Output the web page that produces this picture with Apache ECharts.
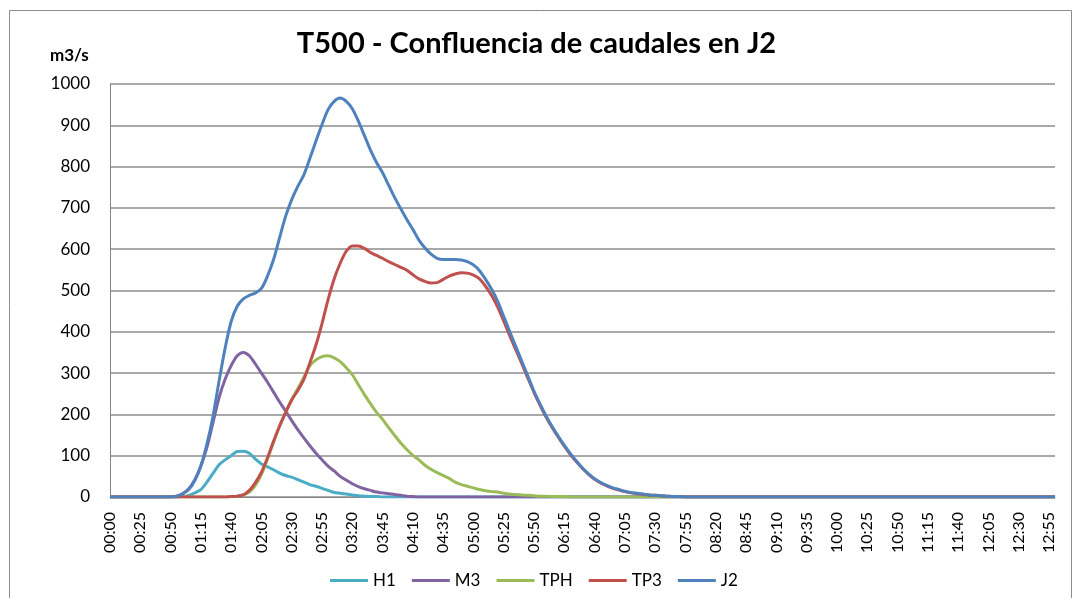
<!DOCTYPE html>
<html>
<head>
<meta charset="utf-8">
<script src="https://cdn.jsdelivr.net/npm/echarts@6/dist/echarts.min.js"></script>
<style>
html,body{margin:0;padding:0;background:#fff;}
#chart{width:1073px;height:598px;}
</style>
</head>
<body>
<div id="chart"></div>
<script>
// Categories: 5-minute steps from 00:00 to 13:00
const times = [];
for (let m = 0; m <= 780; m += 5) {
  const h = Math.floor(m / 60), mm = m % 60;
  times.push((h < 10 ? '0' : '') + h + ':' + (mm < 10 ? '0' : '') + mm);
}

const seriesNames = ['H1', 'M3', 'TPH', 'TP3', 'J2'];

const H1 = [
  0,0,0,0,0,0,0,0,0,0,
  0,0,1,4,10,18,36,57,78,90,
  100,110,111,106,92,80,73,66,58,52,
  48,42,36,30,26,21,16,11,9,7,
  5,3,2,1,1,0,0,0,0,0,
  0,0,0,0,0,0,0,0,0,0,
  0,0,0,0,0,0,0,0,0,0,
  0,0,0,0,0,0,0,0,0,0,
  0,0,0,0,0,0,0,0,0,0,
  0,0,0,0,0,0,0,0,0,0,
  0,0,0,0,0,0,0,0,0,0,
  0,0,0,0,0,0,0,0,0,0,
  0,0,0,0,0,0,0,0,0,0,
  0,0,0,0,0,0,0,0,0,0,
  0,0,0,0,0,0,0,0,0,0,
  0,0,0,0,0,0,0
];

const M3 = [
  0,0,0,0,0,0,0,0,0,0,
  0,2,8,20,42,75,120,180,240,285,
  318,342,350,342,322,300,278,254,230,208,
  185,163,143,124,106,90,75,63,50,41,
  32,25,20,16,12,10,8,6,4,2,
  1,0,0,0,0,0,0,0,0,0,
  0,0,0,0,0,0,0,0,0,0,
  0,0,0,0,0,0,0,0,0,0,
  0,0,0,0,0,0,0,0,0,0,
  0,0,0,0,0,0,0,0,0,0,
  0,0,0,0,0,0,0,0,0,0,
  0,0,0,0,0,0,0,0,0,0,
  0,0,0,0,0,0,0,0,0,0,
  0,0,0,0,0,0,0,0,0,0,
  0,0,0,0,0,0,0,0,0,0,
  0,0,0,0,0,0,0
];

const TPH = [
  0,0,0,0,0,0,0,0,0,0,
  0,0,0,0,0,0,0,0,0,0,
  1,2,5,12,28,55,92,133,172,205,
  236,262,290,318,332,340,342,337,328,313,
  296,272,248,226,205,188,168,149,131,115,
  101,90,77,67,59,52,45,36,30,26,
  22,18,15,13,12,9,7,6,5,4,
  3,2,2,1,1,1,0,0,0,0,
  0,0,0,0,0,0,0,0,0,0,
  0,0,0,0,0,0,0,0,0,0,
  0,0,0,0,0,0,0,0,0,0,
  0,0,0,0,0,0,0,0,0,0,
  0,0,0,0,0,0,0,0,0,0,
  0,0,0,0,0,0,0,0,0,0,
  0,0,0,0,0,0,0,0,0,0,
  0,0,0,0,0,0,0
];

const TP3 = [
  0,0,0,0,0,0,0,0,0,0,
  0,0,0,0,0,0,0,0,0,0,
  1,2,5,16,35,60,95,135,172,205,
  235,258,285,325,368,420,478,528,566,595,
  608,608,602,592,585,578,570,563,556,549,
  538,528,522,518,519,527,535,540,543,542,
  537,528,510,488,460,426,390,356,322,287,
  253,222,193,168,145,123,103,85,69,55,
  43,34,27,21,17,13,10,8,6,5,
  4,3,2,1,1,0,0,0,0,0,
  0,0,0,0,0,0,0,0,0,0,
  0,0,0,0,0,0,0,0,0,0,
  0,0,0,0,0,0,0,0,0,0,
  0,0,0,0,0,0,0,0,0,0,
  0,0,0,0,0,0,0,0,0,0,
  0,0,0,0,0,0,0
];

const J2 = [
  0,0,0,0,0,0,0,0,0,0,
  0,2,8,18,40,75,128,195,280,360,
  425,462,480,488,494,505,535,575,628,680,
  720,752,780,820,862,902,938,958,966,958,
  940,910,875,840,810,785,755,725,698,672,
  648,622,603,588,578,575,575,575,574,570,
  562,548,527,503,474,437,400,364,328,292,
  256,225,196,170,147,125,105,87,70,56,
  44,35,28,22,18,14,11,9,7,5,
  4,3,2,1,1,0,0,0,0,0,
  0,0,0,0,0,0,0,0,0,0,
  0,0,0,0,0,0,0,0,0,0,
  0,0,0,0,0,0,0,0,0,0,
  0,0,0,0,0,0,0,0,0,0,
  0,0,0,0,0,0,0,0,0,0,
  0,0,0,0,0,0,0
];

const yTicks = [0, 100, 200, 300, 400, 500, 600, 700, 800, 900, 1000];

const colors = ['#4BACC6', '#8064A2', '#9BBB59', '#C0504D', '#4F81BD'];
const values = [H1, M3, TPH, TP3, J2];
const FONT = 'Lato, "Noto Sans", sans-serif';

const chart = echarts.init(document.getElementById('chart'), null, {renderer: 'canvas'});
chart.setOption({
  animation: false,
  backgroundColor: '#ffffff',
  color: colors,
  title: {
    text: 'T500 - Confluencia de caudales en J2',
    left: 'center',
    top: 24,
    textStyle: {fontFamily: FONT, fontSize: 29, fontWeight: 'bold', color: '#000'}
  },
  graphic: [
    {type: 'rect', silent: true, z: -1,
     shape: {x: 9.5, y: 10.5, width: 1062, height: 600},
     style: {fill: 'none', stroke: '#8c8c8c', lineWidth: 1}},
    {type: 'text', left: 50, top: 47,
     style: {text: 'm3/s', font: 'bold 17px ' + FONT, fill: '#000'}}
  ],
  legend: {
    left: 325,
    top: 567,
    itemWidth: 38,
    itemHeight: 14,
    itemGap: 16,
    icon: 'path://M0,5.5 L38,5.5 L38,8.5 L0,8.5 Z',
    textStyle: {fontFamily: FONT, fontSize: 17, color: '#000'},
    data: seriesNames
  },
  grid: {left: 110, right: 18, top: 84, bottom: 101, containLabel: false},
  xAxis: {
    type: 'category',
    data: times,
    boundaryGap: false,
    axisLine: {lineStyle: {color: '#868686', width: 1}},
    axisTick: {show: false},
    axisLabel: {
      interval: 4,
      rotate: 90,
      margin: 15,
      fontFamily: FONT,
      fontSize: 16,
      color: '#000'
    },
    splitLine: {show: false}
  },
  yAxis: {
    type: 'value',
    min: 0,
    max: 1000,
    interval: 100,
    axisLine: {show: true, lineStyle: {color: '#868686', width: 1}},
    axisTick: {show: false},
    axisLabel: {
      margin: 20,
      fontFamily: FONT,
      fontSize: 17,
      color: '#000',
      formatter: function (v) { return yTicks.indexOf(v) >= 0 ? String(v) : ''; }
    },
    splitLine: {lineStyle: {color: '#8c8c8c', width: 1.5}}
  },
  series: seriesNames.map((name, i) => ({
    name: name,
    type: 'line',
    data: values[i],
    smooth: 0.3,
    symbol: 'none',
    showSymbol: false,
    lineStyle: {width: 3, color: colors[i]},
    itemStyle: {color: colors[i]},
    z: 2 + i
  }))
});
</script>
</body>
</html>
